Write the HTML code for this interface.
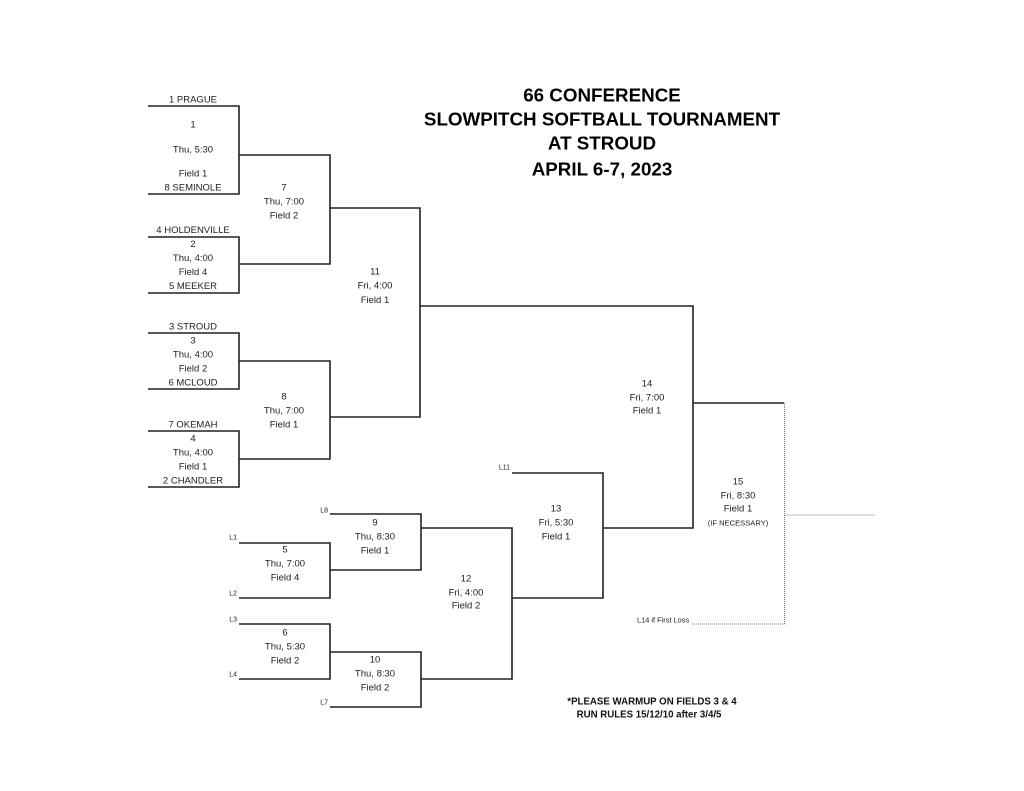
<!DOCTYPE html>
<html>
<head>
<meta charset="utf-8">
<style>
html,body{margin:0;padding:0;background:#fff;}
body{width:1024px;height:791px;overflow:hidden;}
svg{display:block;}
text{font-family:"Liberation Sans",Arial,sans-serif;fill:#222;}
.t{font-size:9.5px;text-anchor:middle;}
.s{font-size:7px;text-anchor:end;}
.h{font-size:18.8px;font-weight:bold;text-anchor:middle;fill:#000;}
.b{font-size:9.7px;font-weight:bold;text-anchor:middle;fill:#111;}
</style>
</head>
<body>
<svg width="1024" height="791" viewBox="0 0 1024 791" xmlns="http://www.w3.org/2000/svg">
<g fill="none" stroke="#222" stroke-width="1.6">
  <polyline points="148,106 239,106 239,194 148,194"/>
  <polyline points="148,237 239,237 239,293 148,293"/>
  <polyline points="239,155 330,155 330,264 239,264"/>
  <polyline points="148,333 239,333 239,389 148,389"/>
  <polyline points="148,431 239,431 239,487 148,487"/>
  <polyline points="239,361 330,361 330,459 239,459"/>
  <polyline points="330,208 420,208 420,417 330,417"/>
  <polyline points="420,306 693,306 693,528 603,528"/>
  <line x1="693" y1="403" x2="784" y2="403"/>
  <polyline points="239,543 330,543 330,598 239,598"/>
  <polyline points="330,514 421,514 421,570 330,570"/>
  <polyline points="239,624 330,624 330,679 239,679"/>
  <polyline points="330,652 421,652 421,707 330,707"/>
  <polyline points="421,528 512,528 512,679 421,679"/>
  <polyline points="512,473 603,473 603,598 512,598"/>
</g>
<g fill="none" stroke="#777" stroke-width="1" stroke-dasharray="1,1">
  <line x1="784.5" y1="403" x2="784.5" y2="624"/>
  <line x1="692" y1="624" x2="784.5" y2="624"/>
  <line x1="784.5" y1="515" x2="875" y2="515"/>
</g>

<text class="h" x="602" y="101.5">66 CONFERENCE</text>
<text class="h" x="602" y="125.5">SLOWPITCH SOFTBALL TOURNAMENT</text>
<text class="h" x="602" y="149.5">AT STROUD</text>
<text class="h" x="602" y="175.5">APRIL 6-7, 2023</text>

<text class="t" x="193" y="102.5">1 PRAGUE</text>
<text class="t" x="193" y="127.5">1</text>
<text class="t" x="193" y="152.5">Thu, 5:30</text>
<text class="t" x="193" y="176.5">Field 1</text>
<text class="t" x="193" y="190.5">8 SEMINOLE</text>

<text class="t" x="193" y="233">4 HOLDENVILLE</text>
<text class="t" x="193" y="247">2</text>
<text class="t" x="193" y="261">Thu, 4:00</text>
<text class="t" x="193" y="275">Field 4</text>
<text class="t" x="193" y="289">5 MEEKER</text>

<text class="t" x="193" y="329.5">3 STROUD</text>
<text class="t" x="193" y="343.5">3</text>
<text class="t" x="193" y="357.5">Thu, 4:00</text>
<text class="t" x="193" y="371.5">Field 2</text>
<text class="t" x="193" y="385.5">6 MCLOUD</text>

<text class="t" x="193" y="427.5">7 OKEMAH</text>
<text class="t" x="193" y="441.5">4</text>
<text class="t" x="193" y="455.5">Thu, 4:00</text>
<text class="t" x="193" y="469.5">Field 1</text>
<text class="t" x="193" y="483.5">2 CHANDLER</text>

<text class="t" x="284" y="190.5">7</text>
<text class="t" x="284" y="204.5">Thu, 7:00</text>
<text class="t" x="284" y="218.5">Field 2</text>

<text class="t" x="284" y="399.5">8</text>
<text class="t" x="284" y="413.5">Thu, 7:00</text>
<text class="t" x="284" y="427.5">Field 1</text>

<text class="t" x="375" y="274.5">11</text>
<text class="t" x="375" y="288.5">Fri, 4:00</text>
<text class="t" x="375" y="303">Field 1</text>

<text class="t" x="647" y="386.5">14</text>
<text class="t" x="647" y="400.5">Fri, 7:00</text>
<text class="t" x="647" y="413.5">Field 1</text>

<text class="t" x="738" y="484.5">15</text>
<text class="t" x="738" y="498.5">Fri, 8:30</text>
<text class="t" x="738" y="511.5">Field 1</text>
<text class="t" x="738" y="525.5" style="font-size:7.6px">(IF NECESSARY)</text>

<text class="t" x="556" y="511.5">13</text>
<text class="t" x="556" y="525.5">Fri, 5:30</text>
<text class="t" x="556" y="539.5">Field 1</text>

<text class="t" x="375" y="525.5">9</text>
<text class="t" x="375" y="539.5">Thu, 8:30</text>
<text class="t" x="375" y="553.5">Field 1</text>

<text class="t" x="285" y="552.5">5</text>
<text class="t" x="285" y="566.5">Thu, 7:00</text>
<text class="t" x="285" y="580.5">Field 4</text>

<text class="t" x="466" y="581.5">12</text>
<text class="t" x="466" y="595.5">Fri, 4:00</text>
<text class="t" x="466" y="608.5">Field 2</text>

<text class="t" x="285" y="635.5">6</text>
<text class="t" x="285" y="649.5">Thu, 5:30</text>
<text class="t" x="285" y="663.5">Field 2</text>

<text class="t" x="375" y="662.5">10</text>
<text class="t" x="375" y="676.5">Thu, 8:30</text>
<text class="t" x="375" y="690.5">Field 2</text>

<text class="s" x="328" y="512.5">L8</text>
<text class="s" x="237" y="539.5">L1</text>
<text class="s" x="237" y="595.5">L2</text>
<text class="s" x="237" y="621.5">L3</text>
<text class="s" x="237" y="676.5">L4</text>
<text class="s" x="328" y="704.5">L7</text>
<text class="s" x="510" y="469.5">L11</text>
<text x="637" y="622.5" style="font-size:7.4px">L14 if First Loss</text>

<text class="b" x="652" y="704.5">*PLEASE WARMUP ON FIELDS 3 &amp; 4</text>
<text class="b" x="649" y="717.5">RUN RULES 15/12/10 after 3/4/5</text>
</svg>
</body>
</html>
